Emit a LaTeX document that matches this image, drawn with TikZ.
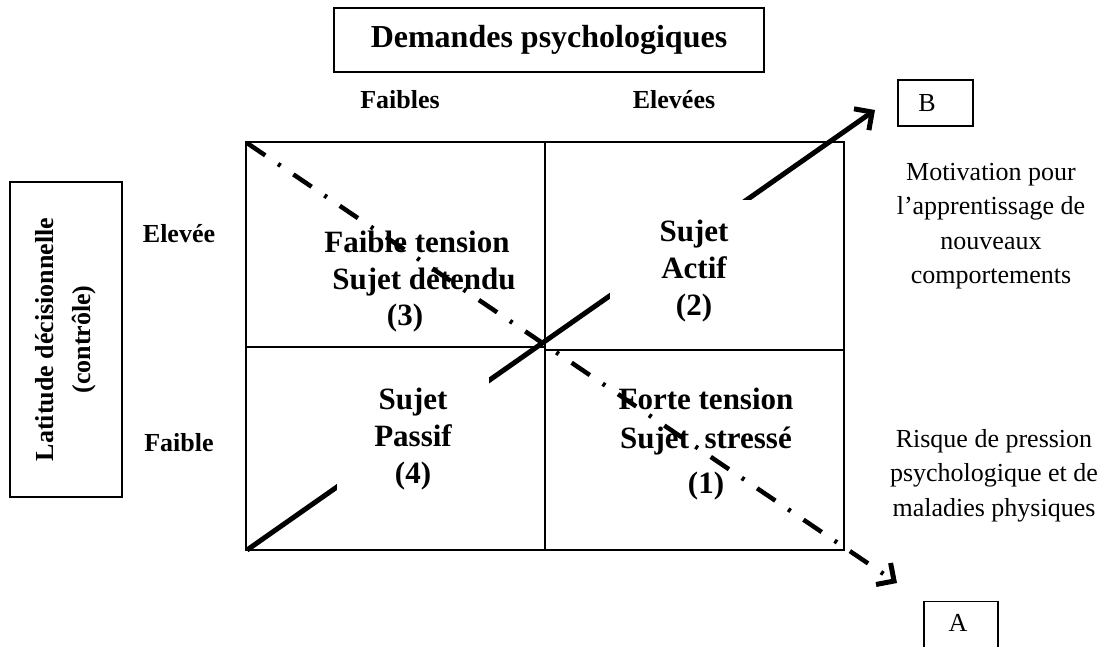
\documentclass[tikz,border=0pt]{standalone}
\usepackage{fontspec}
\setmainfont{Liberation Serif}
\usetikzlibrary{arrows.meta}
\begin{document}
\begin{tikzpicture}[x=1pt,y=-1pt,
  gridline/.style={line width=1.6pt},
  box/.style={draw, line width=1.3pt, inner sep=0pt},
  celltext/.style={font=\bfseries\fontsize{31}{36.7}\selectfont, align=center, inner sep=0pt, anchor=north},
  masktext/.style={celltext, fill=white},
  axislabel/.style={font=\bfseries\fontsize{26}{30}\selectfont, anchor=base, inner sep=0pt},
  note/.style={font=\fontsize{26}{34.5}\selectfont, align=center, inner sep=0pt, anchor=north},
  solidarrow/.style={line width=5pt, -{Straight Barb[length=13pt,width=26pt,line width=5pt]}},
  dasharrow/.style={line width=4.5pt, dash pattern=on 22pt off 15.5pt on 3pt off 15.5pt, -{Straight Barb[length=13pt,width=26pt,line width=5pt]}},
]
\clip (0,0) rectangle (1104,646);
\fill[white] (0,0) rectangle (1104,646);

% title box
\node[box, minimum width=430pt, minimum height=64pt, font=\bfseries\fontsize{32}{36}\selectfont] (dem) at (549,40) {Demandes psychologiques};
\node[axislabel] (faibles) at (400,108) {Faibles};
\node[axislabel] (elevees) at (674,108) {Elevées};

% left axis box
\node[box, rotate=90, minimum width=315pt, minimum height=112pt, align=center,
      font=\bfseries\fontsize{26}{37}\selectfont] (lat) at (66,339.5) {Latitude décisionnelle\\(contrôle)};
\node[axislabel] (elevee) at (179,242) {Elevée};
\node[axislabel] (faible) at (179,451) {Faible};

% grid
\draw[gridline] (246,142) rectangle (844,550);
\draw[gridline] (545,142) -- (545,550);
\draw[gridline] (246,347) -- (545,347);
\draw[gridline] (545,350) -- (844,350);

% coordinates for arrows
\coordinate (sA) at (247,550);
\coordinate (eB) at (875,110);
\coordinate (sD) at (247,143);
\coordinate (eA) at (897,583);

% solid arrow (to B)
\draw[solidarrow] (sA) -- (eB);

% cell texts masking the solid arrow
\node[masktext, inner xsep=50pt, inner ysep=20pt] (actif) at (694,200) {Sujet\\Actif\\(2)};
\node[masktext, inner xsep=37pt, inner ysep=12pt] (passif) at (413,376) {Sujet\\Passif\\(4)};

% other cell texts
\node[celltext] (detendu) at (417,230.6) {Faible tension\\\hspace*{14pt}Sujet détendu\\(3)\hspace*{24pt}};
\node[celltext] (stresse) at (706,388) {Forte tension\\[2pt]Sujet\ \ stressé\\[8pt](1)};

% dash-dot arrow (to A)
\draw[dasharrow] (sD) -- (eA);

% B and A boxes
\node[box, minimum width=75pt, minimum height=46pt, font=\fontsize{26}{30}\selectfont] (B) at (935.5,103) {B\hspace*{17pt}};
\node[box, anchor=north, minimum width=74pt, inner ysep=13pt, text depth=30pt, font=\fontsize{26}{30}\selectfont] (A) at (961,601) {A\hspace*{6pt}};

% notes
\node[note] (motiv) at (991,163) {Motivation pour\\l’apprentissage de\\nouveaux\\comportements};
\node[note] (risque) at (994,429) {Risque de pression\\psychologique et de\\maladies physiques};
\end{tikzpicture}
\end{document}
